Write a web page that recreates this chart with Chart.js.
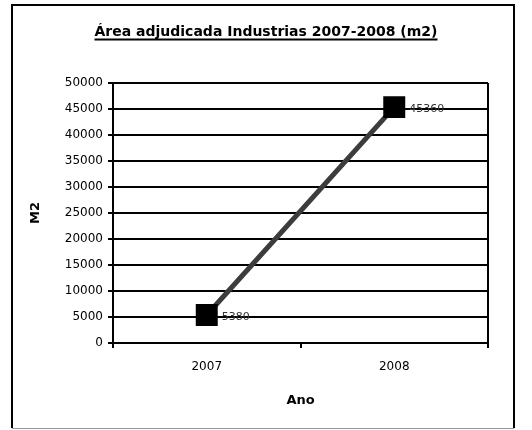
<!DOCTYPE html>
<html>
<head>
<meta charset="utf-8">
<script src="https://cdn.jsdelivr.net/npm/chart.js@4/dist/chart.umd.min.js"></script>
<style>
  body { margin: 0; background: #fff; }
  canvas { display: block; }
</style>
</head>
<body>
<canvas id="chart" width="532" height="430"></canvas>
<script>
// Área adjudicada (m2) por ano
const anos = ["2007", "2008"];
const areaM2 = [5380, 45360];
const yTicks = [0, 5000, 10000, 15000, 20000, 25000, 30000, 35000, 40000, 45000, 50000];
const titulo = "Área adjudicada Industrias 2007-2008 (m2)";

const FONTE = "'DejaVu Sans', Verdana, sans-serif";

// moldura, título sublinhado, borda direita da área e rótulos dos pontos
const extras = {
  id: "extras",
  beforeDraw(chart) {
    const ctx = chart.ctx;
    ctx.save();
    ctx.fillStyle = "#fff";
    ctx.fillRect(0, 0, chart.width, chart.height);
    ctx.strokeStyle = "#000";
    ctx.lineWidth = 2;
    ctx.beginPath();
    ctx.moveTo(12, 428); ctx.lineTo(12, 5); ctx.lineTo(514, 5); ctx.lineTo(514, 428);
    ctx.stroke();
    ctx.strokeStyle = "#999";
    ctx.lineWidth = 1;
    ctx.beginPath();
    ctx.moveTo(12, 428.5); ctx.lineTo(514, 428.5);
    ctx.stroke();

    ctx.font = "bold 14px " + FONTE;
    ctx.fillStyle = "#000";
    ctx.textAlign = "center";
    ctx.textBaseline = "alphabetic";
    ctx.fillText(titulo, 266, 36);
    const w = ctx.measureText(titulo).width;
    ctx.lineWidth = 2;
    ctx.strokeStyle = "#000";
    ctx.beginPath();
    ctx.moveTo(266 - w / 2, 39.5); ctx.lineTo(266 + w / 2, 39.5);
    ctx.stroke();
    ctx.restore();
  },
  afterDraw(chart) {
    const ctx = chart.ctx;
    const a = chart.chartArea;
    ctx.save();
    ctx.strokeStyle = "#000";
    ctx.lineWidth = 2;
    ctx.beginPath();
    ctx.moveTo(a.right, a.top); ctx.lineTo(a.right, a.bottom);
    ctx.stroke();
    ctx.restore();
  },
  afterDatasetsDraw(chart) {
    const ctx = chart.ctx;
    const meta = chart.getDatasetMeta(0);
    ctx.save();
    ctx.font = "11px " + FONTE;
    ctx.fillStyle = "#333";
    ctx.textAlign = "left";
    ctx.textBaseline = "middle";
    meta.data.forEach((pt, i) => {
      ctx.fillText(String(areaM2[i]), pt.x + 15, pt.y + 2);
    });
    ctx.restore();
  }
};

new Chart(document.getElementById("chart"), {
  type: "line",
  data: {
    labels: anos,
    datasets: [{
      data: areaM2,
      borderColor: "#3c3c3c",
      borderWidth: 5,
      pointStyle: "rect",
      pointRadius: 12,
      pointBackgroundColor: "#000",
      pointBorderColor: "#000",
      tension: 0
    }]
  },
  options: {
    responsive: false,
    animation: false,
    devicePixelRatio: 1,
    layout: { padding: { top: 83, right: 44, left: 0, bottom: 0 } },
    plugins: {
      legend: { display: false },
      title: { display: false },
      tooltip: { enabled: false }
    },
    scales: {
      x: {
        offset: true,
        afterFit(scale) { scale.height = 87; },
        grid: { offset: true, drawOnChartArea: false, color: "#000", lineWidth: 2, tickLength: 5 },
        border: { color: "#000", width: 2 },
        ticks: {
          color: "#000",
          padding: 12,
          font: { family: FONTE, size: 12 }
        },
        title: {
          display: true,
          text: "Ano",
          color: "#000",
          padding: { top: 0, bottom: 22 },
          font: { family: FONTE, size: 13, weight: "bold" }
        }
      },
      y: {
        min: yTicks[0],
        max: yTicks[yTicks.length - 1],
        afterFit(scale) { scale.width = 113; },
        afterBuildTicks(scale) { scale.ticks = yTicks.map(v => ({ value: v })); },
        grid: { color: "#000", lineWidth: 2, tickLength: 5 },
        border: { color: "#000", width: 2 },
        ticks: {
          color: "#000",
          padding: 5,
          callback: v => String(v),
          font: { family: FONTE, size: 12 }
        },
        title: {
          display: true,
          text: "M2",
          color: "#000",
          padding: { top: 28, bottom: 0 },
          font: { family: FONTE, size: 13, weight: "bold" }
        }
      }
    }
  },
  plugins: [extras]
});
</script>
</body>
</html>
